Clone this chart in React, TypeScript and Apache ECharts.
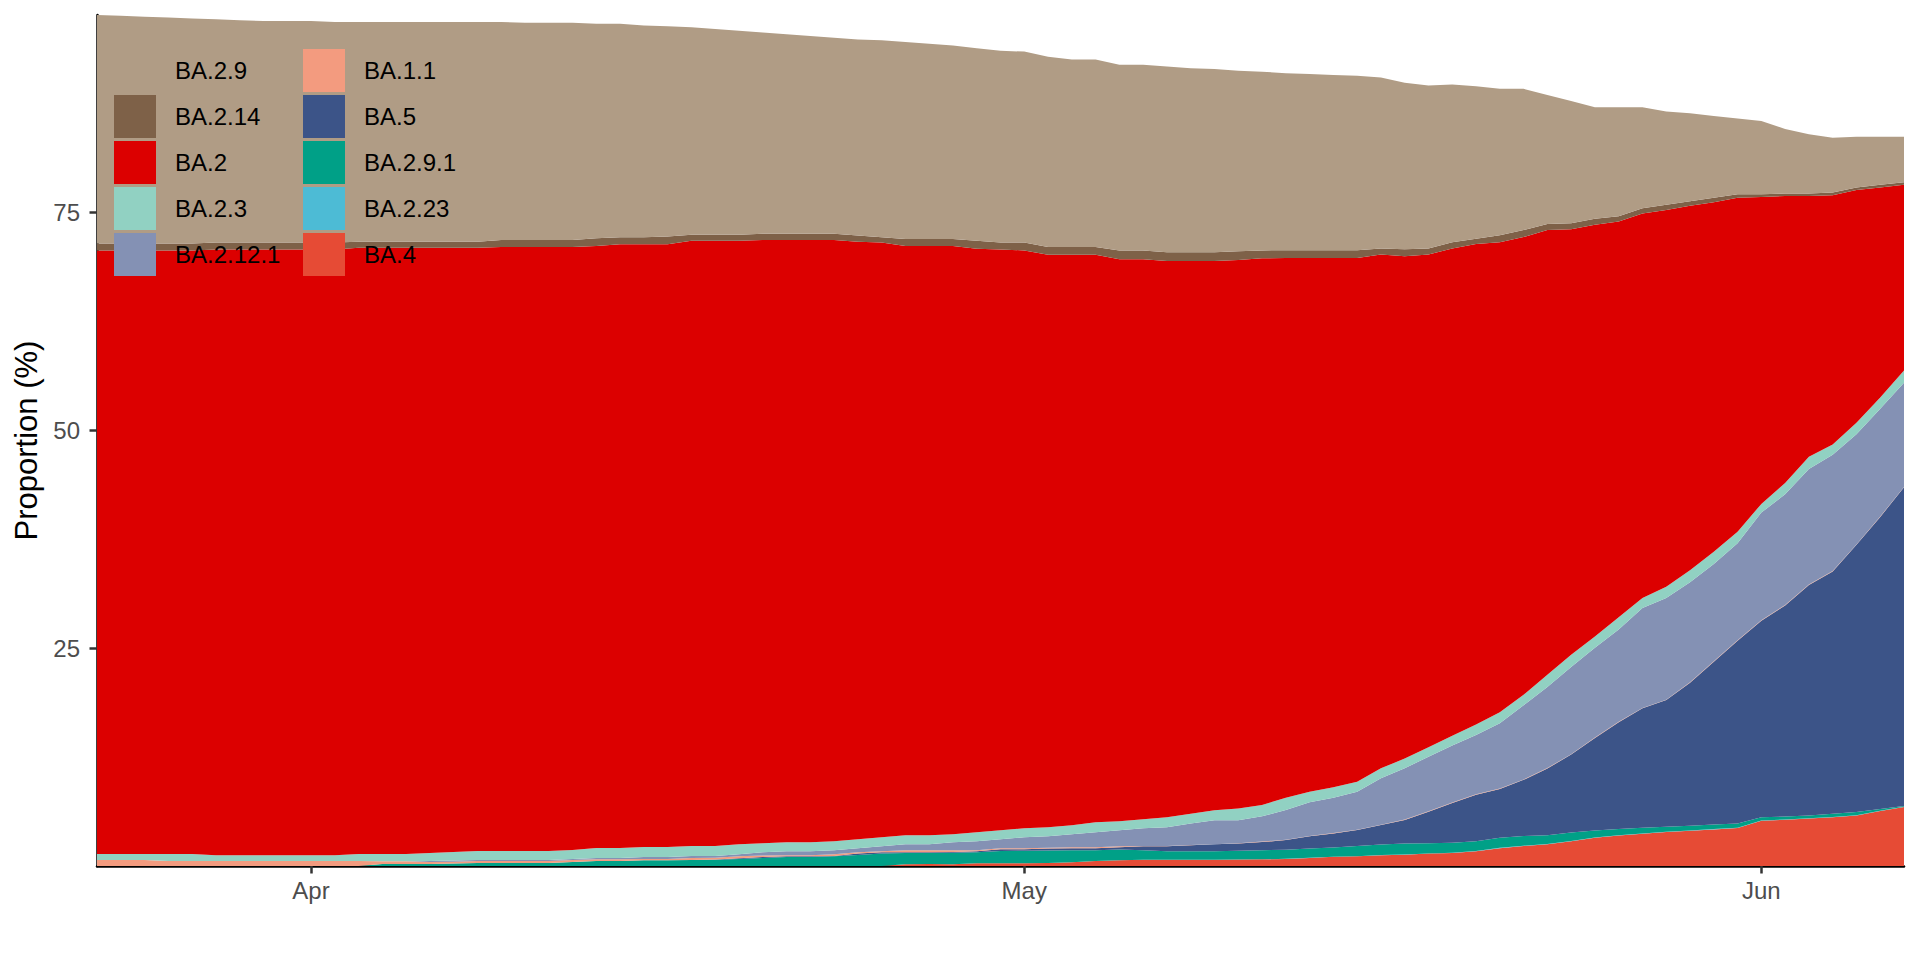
import React, { useEffect, useRef } from "react";
import * as echarts from "echarts";

// Daily dates from 2022-03-23 to 2022-06-07 (77 days)
const START_DATE = Date.UTC(2022, 2, 23);
const DAY_MS = 86400000;
const N_DAYS = 77;
const DATES: string[] = Array.from({ length: N_DAYS }, (_, i) =>
  new Date(START_DATE + i * DAY_MS).toISOString().slice(0, 10)
);

const MONTH_TICKS: string[] = ["2022-04-01", "2022-05-01", "2022-06-01"];
const MONTH_LABELS: string[] = ["Apr", "May", "Jun"];
const Y_TICKS: number[] = [25, 50, 75];

// Stacked bottom -> top
const BA_4 = [
  0, 0, 0, 0, 0, 0, 0, 0, 0, 0,
  0, 0, 0, 0, 0, 0, 0, 0, 0, 0,
  0, 0, 0, 0, 0, 0, 0, 0, 0, 0,
  0, 0, 0, 0, 0.2, 0.23, 0.2, 0.31, 0.31, 0.31,
  0.35, 0.42, 0.57, 0.65, 0.73, 0.73, 0.73, 0.73, 0.75, 0.77,
  0.8, 0.93, 1.05, 1.11, 1.23, 1.3, 1.42, 1.5, 1.7, 2.05,
  2.3, 2.5, 2.85, 3.25, 3.5, 3.7, 3.9, 4.05, 4.2, 4.35,
  5.2, 5.3, 5.45, 5.6, 5.8, 6.3, 6.77,
];
const BA_2_23 = [
  0, 0, 0, 0, 0, 0, 0, 0, 0, 0,
  0, 0, 0, 0, 0, 0, 0, 0, 0, 0,
  0, 0, 0, 0, 0, 0, 0, 0, 0, 0,
  0, 0, 0, 0, 0, 0, 0, 0, 0, 0,
  0, 0, 0, 0, 0, 0, 0, 0, 0, 0,
  0.02, 0.02, 0.02, 0.02, 0.02, 0.02, 0.02, 0.03, 0.03, 0.03,
  0.03, 0.03, 0.03, 0.03, 0.03, 0.03, 0.03, 0.03, 0.03, 0.03,
  0.03, 0.03, 0.03, 0.03, 0.03, 0.03, 0.03,
];
const BA_2_9_1 = [
  0, 0, 0, 0, 0, 0, 0, 0, 0, 0,
  0, 0, 0.23, 0.23, 0.23, 0.3, 0.34, 0.34, 0.34, 0.34,
  0.46, 0.57, 0.57, 0.65, 0.65, 0.69, 0.72, 0.8, 0.92, 1.03,
  1.03, 1.11, 1.27, 1.42, 1.29, 1.26, 1.33, 1.26, 1.41, 1.45,
  1.43, 1.38, 1.23, 1.23, 1.07, 0.96, 0.96, 0.96, 1.0, 1.03,
  1.05, 1.07, 1.05, 1.15, 1.22, 1.25, 1.18, 1.15, 1.1, 1.15,
  1.1, 1.0, 0.95, 0.8, 0.7, 0.65, 0.58, 0.55, 0.52, 0.5,
  0.35, 0.35, 0.3, 0.35, 0.35, 0.2, 0.08,
];
const BA_5 = [
  0, 0, 0, 0, 0, 0, 0, 0, 0, 0,
  0, 0, 0, 0, 0, 0, 0, 0, 0, 0,
  0, 0, 0, 0, 0, 0, 0.03, 0.1, 0.11, 0.08,
  0.08, 0.04, 0.15, 0.15, 0.08, 0.08, 0.08, 0.12, 0.2, 0.16,
  0.22, 0.23, 0.25, 0.27, 0.46, 0.57, 0.69, 0.8, 0.82, 0.95,
  1.1, 1.38, 1.62, 1.84, 2.22, 2.7, 3.6, 4.55, 5.35, 5.6,
  6.45, 7.65, 8.95, 10.6, 12.25, 13.72, 14.54, 16.4, 18.68, 20.95,
  22.55, 24.2, 26.45, 27.8, 30.65, 33.5, 36.55,
];
const BA_1_1 = [
  0.69, 0.69, 0.69, 0.57, 0.57, 0.57, 0.57, 0.57, 0.57, 0.57,
  0.57, 0.57, 0.31, 0.31, 0.23, 0.2, 0.23, 0.23, 0.23, 0.23,
  0.23, 0.2, 0.2, 0.15, 0.15, 0.23, 0.2, 0.21, 0.16, 0.12,
  0.12, 0.19, 0.15, 0.12, 0.23, 0.23, 0.19, 0.11, 0.11, 0.11,
  0.1, 0.12, 0.1, 0.11, 0.04, 0.04, 0.02, 0.01, 0.03, 0.05,
  0.05, 0.04, 0.04, 0.05, 0.05, 0.05, 0.05, 0.05, 0.05, 0.05,
  0.05, 0.05, 0.05, 0.05, 0.05, 0.03, 0.03, 0.05, 0.05, 0.05,
  0.05, 0.05, 0.05, 0.05, 0.05, 0.05, 0.05,
];
const BA_2_12_1 = [
  0, 0, 0, 0, 0, 0, 0, 0, 0, 0,
  0, 0, 0, 0, 0.11, 0.12, 0.12, 0.12, 0.12, 0.12,
  0.11, 0.15, 0.15, 0.23, 0.23, 0.23, 0.2, 0.23, 0.38, 0.46,
  0.46, 0.46, 0.46, 0.57, 0.69, 0.69, 0.92, 1.04, 1.04, 1.27,
  1.31, 1.49, 1.72, 1.84, 2.03, 2.14, 2.47, 2.75, 2.65, 2.9,
  3.4, 3.88, 4.04, 4.35, 5.31, 5.9, 6.25, 6.55, 6.8, 7.5,
  8.5, 9.3, 10.0, 10.3, 10.6, 11.45, 11.65, 11.45, 11.15, 11.15,
  12.35, 12.7, 13.25, 13.35, 12.65, 12.35, 11.95,
];
const BA_2_3 = [
  0.69, 0.69, 0.69, 0.81, 0.81, 0.66, 0.66, 0.66, 0.66, 0.66,
  0.66, 0.81, 0.84, 0.84, 0.92, 0.99, 1.03, 1.03, 1.03, 1.03,
  1.04, 1.15, 1.15, 1.15, 1.15, 1.15, 1.15, 1.15, 1.03, 1.03,
  1.03, 1.04, 1.04, 1.04, 1.03, 1.03, 0.92, 1.03, 1.03, 1.03,
  1.03, 1.03, 1.15, 1.03, 1.03, 1.16, 1.13, 1.14, 1.34, 1.3,
  1.41, 1.2, 1.2, 1.15, 1.15, 1.1, 1.1, 1.1, 1.2, 1.25,
  1.2, 1.4, 1.4, 1.3, 1.4, 1.15, 1.3, 1.4, 1.4, 1.3,
  1.0, 1.3, 1.4, 1.15, 1.3, 1.3, 1.4,
];
const BA_2 = [
  69.22, 69.22, 69.22, 69.22, 69.22, 69.47, 69.47, 69.47, 69.47, 69.47,
  69.47, 69.52, 69.52, 69.52, 69.41, 69.29, 69.18, 69.28, 69.28, 69.28,
  69.16, 69.03, 69.23, 69.12, 69.12, 69.4, 69.4, 69.21, 69.2, 69.08,
  69.08, 68.96, 68.53, 68.2, 67.58, 67.58, 67.46, 66.93, 66.6, 66.27,
  65.66, 65.43, 65.08, 64.47, 64.24, 63.8, 63.4, 63.01, 62.91, 62.7,
  61.89, 61.2, 60.7, 60.05, 58.92, 57.6, 56.5, 55.9, 55.1, 53.9,
  52.5, 51.0, 48.8, 47.2, 45.4, 44.1, 43.2, 41.8, 40.1, 38.3,
  35.2, 32.9, 29.9, 28.6, 26.7, 24.1, 21.3,
];
const BA_2_14 = [
  0.8, 0.8, 0.8, 0.8, 0.8, 0.8, 0.8, 0.8, 0.8, 0.8,
  0.8, 0.7, 0.7, 0.7, 0.7, 0.7, 0.7, 0.8, 0.8, 0.8,
  0.8, 0.9, 0.8, 0.8, 0.9, 0.7, 0.7, 0.7, 0.7, 0.7,
  0.7, 0.7, 0.7, 0.6, 0.8, 0.8, 0.8, 0.9, 0.8, 0.9,
  0.9, 0.9, 0.9, 1.0, 1.0, 1.0, 1.0, 1.0, 1.0, 0.9,
  0.9, 0.9, 0.9, 0.9, 0.7, 0.8, 0.7, 0.7, 0.6, 0.8,
  0.8, 0.7, 0.7, 0.7, 0.6, 0.6, 0.6, 0.5, 0.5, 0.4,
  0.3, 0.3, 0.3, 0.3, 0.3, 0.3, 0.3,
];
const BA_2_9 = [
  26.2, 26.1, 26.0, 25.9, 25.8, 25.6, 25.5, 25.4, 25.4, 25.4,
  25.3, 25.2, 25.2, 25.2, 25.2, 25.2, 25.2, 25.0, 24.9, 24.9,
  24.9, 24.6, 24.5, 24.3, 24.1, 23.8, 23.6, 23.4, 23.1, 22.9,
  22.7, 22.5, 22.5, 22.6, 22.6, 22.4, 22.2, 22.1, 22.0, 21.9,
  21.8, 21.5, 21.5, 21.3, 21.3, 21.3, 21.1, 21.0, 20.7, 20.5,
  20.3, 20.2, 20.1, 20.0, 19.6, 19.1, 18.7, 18.1, 17.5, 16.8,
  16.2, 14.8, 14.0, 12.8, 12.5, 11.6, 10.7, 10.1, 9.4, 8.7,
  8.4, 7.4, 6.8, 6.3, 5.8, 5.5, 5.2,
];

// Stacking order bottom -> top
const LINEAGES: string[] = ["BA.4", "BA.2.23", "BA.2.9.1", "BA.5", "BA.1.1", "BA.2.12.1", "BA.2.3", "BA.2", "BA.2.14", "BA.2.9"];
const VALUES: number[][] = [BA_4, BA_2_23, BA_2_9_1, BA_5, BA_1_1, BA_2_12_1, BA_2_3, BA_2, BA_2_14, BA_2_9];
const COLORS: string[] = ["#E64B35", "#4DBBD5", "#00A087", "#3C5488", "#F39B7F", "#8491B4", "#91D1C2", "#DC0000", "#7E6148", "#B09C85"];

const LEGEND_COL1: string[] = ["BA.2.9", "BA.2.14", "BA.2", "BA.2.3", "BA.2.12.1"];
const LEGEND_COL2: string[] = ["BA.1.1", "BA.5", "BA.2.9.1", "BA.2.23", "BA.4"];

const FONT = "'Liberation Sans', Arial, sans-serif";

function colorOf(name: string): string {
  return COLORS[LINEAGES.indexOf(name)];
}

function isMonthTick(_idx: number, value: string): boolean {
  return MONTH_TICKS.indexOf(value) >= 0;
}

function monthLabel(v: string): string {
  const i = MONTH_TICKS.indexOf(v);
  return i >= 0 ? MONTH_LABELS[i] : "";
}

function makeLegend(names: string[], left: number) {
  return {
    show: true,
    orient: "vertical",
    left,
    top: 49,
    padding: 0,
    itemWidth: 42,
    itemHeight: 43,
    itemGap: 3,
    selectedMode: false,
    textStyle: { color: "#000", fontSize: 24, fontFamily: FONT, padding: [0, 0, 0, 14] },
    data: names.map((n) => ({ name: n, icon: "rect", itemStyle: { color: colorOf(n), borderWidth: 0 } })),
  };
}

export default function App() {
  const ref = useRef<HTMLDivElement>(null);
  useEffect(() => {
    document.body.style.margin = "0";
    if (!ref.current) return;
    const chart = echarts.init(ref.current, null, { renderer: "svg" });
    const option = {
      animation: false,
      backgroundColor: "#ffffff",
      grid: { left: 97, right: 16, top: 15, bottom: 94, containLabel: false },
      tooltip: { show: false },
      legend: [makeLegend(LEGEND_COL1, 114), makeLegend(LEGEND_COL2, 303)],
      xAxis: {
        type: "category",
        data: DATES,
        boundaryGap: false,
        axisLine: { show: true, onZero: false, lineStyle: { color: "#000", width: 2.5 } },
        axisTick: { show: true, length: 7.5, lineStyle: { color: "#333333", width: 2.5 }, interval: isMonthTick },
        axisLabel: {
          interval: isMonthTick,
          formatter: (v: string) => monthLabel(v),
          color: "#4D4D4D",
          fontSize: 24,
          fontFamily: FONT,
          margin: 12,
        },
        splitLine: { show: false },
      },
      yAxis: {
        type: "value",
        min: 0,
        max: 97.6,
        name: "Proportion (%)",
        nameLocation: "middle",
        nameGap: 50,
        nameTextStyle: { color: "#000", fontSize: 31, fontFamily: FONT },
        axisLine: { show: true, lineStyle: { color: "#000", width: 2.5 } },
        axisTick: { show: true, length: 7.5, lineStyle: { color: "#333333", width: 2.5 }, customValues: Y_TICKS },
        axisLabel: { customValues: Y_TICKS, color: "#4D4D4D", fontSize: 24, fontFamily: FONT, margin: 17 },
        splitLine: { show: false },
      },
      series: LINEAGES.map((name, i) => ({
        name,
        type: "line",
        stack: "total",
        symbol: "none",
        showSymbol: false,
        smooth: false,
        lineStyle: { width: 0, color: COLORS[i] },
        itemStyle: { color: COLORS[i] },
        areaStyle: { color: COLORS[i], opacity: 1 },
        emphasis: { disabled: true },
        data: VALUES[i],
      })),
    };
    chart.setOption(option as any);
    return () => chart.dispose();
  }, []);
  return <div ref={ref} style={{ width: 1920, height: 960, background: "#fff" }} />;
}
